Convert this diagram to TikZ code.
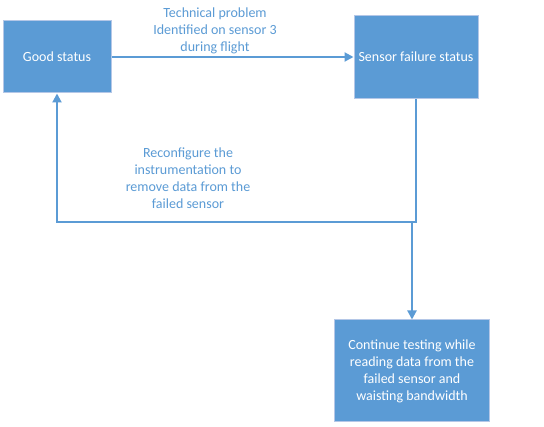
\documentclass[tikz,border=0pt]{standalone}
\usepackage{fontspec}
\setmainfont{Carlito}
\usepackage{xcolor}
\usepackage{tikz}
\usetikzlibrary{arrows.meta, positioning}
\definecolor{officeblue}{HTML}{5B9BD5}
\definecolor{boxedge}{HTML}{B4C7E7}

\tikzset{
  state/.style={draw=boxedge, line width=1pt, fill=officeblue, text=white,
    align=center, font=\fontsize{14}{17}\selectfont, inner sep=2pt},
  flow/.style={draw=officeblue, line width=2pt, -{Triangle[length=9pt,width=9pt]}},
  note/.style={text=officeblue, align=center, font=\fontsize{14}{17}\selectfont}
}

\begin{document}
\begin{tikzpicture}[x=1pt, y=-1pt]
  \useasboundingbox[fill=white] (0,0) rectangle (544,427);
  \node[state, minimum width=108pt, minimum height=72pt] (good) at (57,57) {Good status};
  \node[state, minimum width=124pt, minimum height=83pt] (fail) at (416,57) {Sensor failure status};
  \node[state, minimum width=155pt, minimum height=102pt] (cont) at (412,371)
    {Continue testing while\\reading data from the\\failed sensor and\\waisting bandwidth};
  \coordinate (turn) at (416,222);
  \coordinate (split) at (412,222);
  \draw[flow] (good) -- (fail);
  \node[note] (tech) at (215,31) {Technical problem\\Identified on sensor 3\\during flight};
  \draw[flow] (fail) -- (turn) -| (good);
  \node[note] (reconf) at (188,178) {Reconfigure the\\instrumentation to\\remove data from the\\failed sensor};
  \draw[flow] (split) -- (cont);
\end{tikzpicture}
\end{document}
